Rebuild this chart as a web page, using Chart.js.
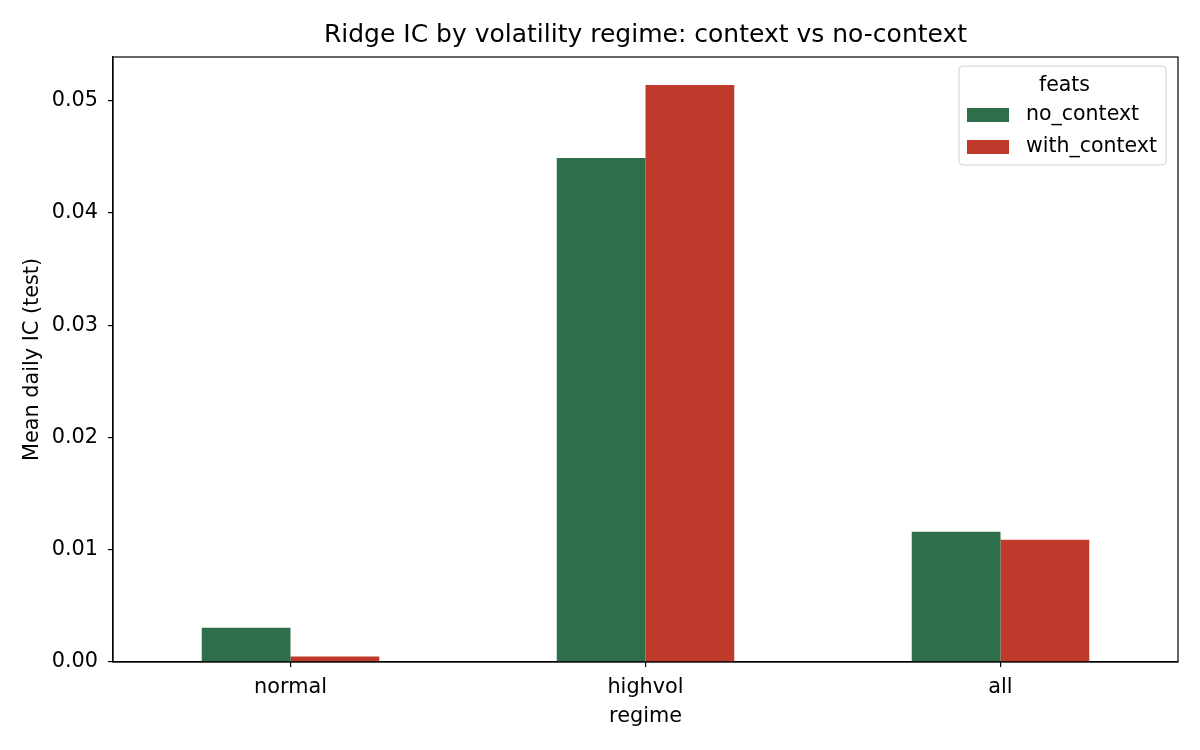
<!DOCTYPE html>
<html>
<head>
<meta charset="utf-8">
<script src="https://cdn.jsdelivr.net/npm/chart.js@4.4.1/dist/chart.umd.min.js"></script>
<style>
  html, body { margin: 0; padding: 0; background: #fff; }
  #wrap { width: 1200px; height: 750px; }
</style>
</head>
<body>
<div id="wrap"><canvas id="chart" width="1200" height="750"></canvas></div>
<script>
// Ridge IC by regime
const regimes = ['normal', 'highvol', 'all'];
const noContext = [0.00305, 0.0449, 0.0116];
const withContext = [0.0005, 0.0514, 0.0109];
const seriesNames = ['no_context', 'with_context'];
const yTicks = [0.00, 0.01, 0.02, 0.03, 0.04, 0.05];
const titleText = 'Ridge IC by volatility regime: context vs no-context';

const FONT = 'DejaVu Sans';
const colors = ['#2e6e4b', '#bf3a2b'];

// draws the top/right spines and the axes-centred title
const frame = {
    id: 'frame',
    afterDraw(chart) {
        const { ctx, chartArea: a } = chart;
        ctx.save();
        ctx.strokeStyle = '#000';
        ctx.lineWidth = 1.2;
        ctx.strokeRect(a.left, a.top, a.right - a.left, a.bottom - a.top);

        ctx.fillStyle = '#000';
        ctx.font = '25px ' + FONT;
        ctx.textAlign = 'center';
        ctx.textBaseline = 'middle';
        ctx.fillText(titleText, (a.left + a.right) / 2, a.top - 22);
        ctx.restore();
    }
};

// matplotlib style legend inside upper right
const boxLegend = {
    id: 'boxLegend',
    afterDraw(chart) {
        const { ctx, chartArea: a } = chart;
        const w = 207, h = 99;
        const x = a.right - 12 - w, y = a.top + 9;
        ctx.save();
        ctx.beginPath();
        ctx.roundRect(x, y, w, h, 4);
        ctx.fillStyle = 'rgba(255,255,255,0.8)';
        ctx.fill();
        ctx.strokeStyle = '#d0d0d0';
        ctx.lineWidth = 1;
        ctx.stroke();

        ctx.fillStyle = '#000';
        ctx.font = '20.5px ' + FONT;
        ctx.textAlign = 'center';
        ctx.textBaseline = 'middle';
        ctx.fillText('feats', x + w / 2 + 2, y + 20);

        ctx.textAlign = 'left';
        chart.data.datasets.forEach((ds, i) => {
            const cy = y + 49 + i * 32;
            ctx.fillStyle = ds.backgroundColor;
            ctx.fillRect(x + 8, cy - 7, 42, 14);
            ctx.fillStyle = '#000';
            ctx.fillText(ds.label, x + 67, cy);
        });
        ctx.restore();
    }
};

new Chart(document.getElementById('chart').getContext('2d'), {
    type: 'bar',
    data: {
        labels: regimes,
        datasets: [
            { label: seriesNames[0], data: noContext, backgroundColor: colors[0] },
            { label: seriesNames[1], data: withContext, backgroundColor: colors[1] }
        ]
    },
    options: {
        responsive: false,
        animation: false,
        devicePixelRatio: 1,
        layout: { padding: { left: 0, right: 22, top: 57, bottom: 0 } },
        datasets: {
            bar: { barPercentage: 1, categoryPercentage: 0.5, borderWidth: 0 }
        },
        plugins: {
            legend: { display: false },
            tooltip: { enabled: false },
            title: { display: false }
        },
        scales: {
            x: {
                grid: { display: true, offset: false, drawOnChartArea: false, drawTicks: true, tickLength: 5, color: '#000', lineWidth: 1.2 },
                border: { display: true, color: '#000', width: 1.2 },
                ticks: { color: '#000', font: { family: FONT, size: 20.8 }, padding: 8 },
                title: {
                    display: true, text: 'regime', color: '#000',
                    font: { family: FONT, size: 20.8 }, padding: { top: 0, bottom: 21 }
                },
                afterFit(scale) { scale.height = 88; }
            },
            y: {
                min: 0,
                max: 0.0539,
                grid: { display: true, drawOnChartArea: false, drawTicks: true, tickLength: 5, color: '#000', lineWidth: 1.2 },
                border: { display: true, color: '#000', width: 1.2 },
                afterBuildTicks(scale) { scale.ticks = yTicks.map(v => ({ value: v })); },
                ticks: {
                    color: '#000', font: { family: FONT, size: 20.8 }, padding: 10,
                    callback: v => v.toFixed(2)
                },
                title: {
                    display: true, text: 'Mean daily IC (test)', color: '#000',
                    font: { family: FONT, size: 20.8 }, padding: { top: 20, bottom: 0 }
                },
                afterFit(scale) { scale.width = 113; }
            }
        }
    },
    plugins: [frame, boxLegend]
});
</script>
</body>
</html>
